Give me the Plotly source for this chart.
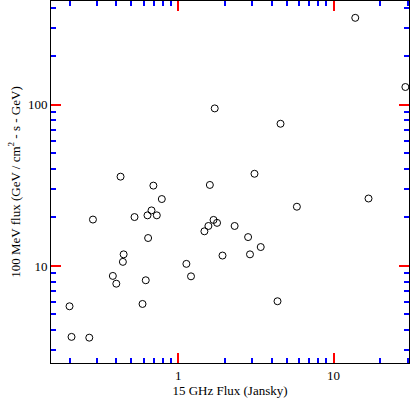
import numpy as np
import plotly.graph_objects as go

# 15 GHz radio flux (Jy) vs 100 MeV gamma-ray flux
radio_flux = [13.8, 29.0, 1.72, 4.56, 0.426, 0.693, 1.60, 3.10, 0.785, 16.8,
              0.283, 0.524, 0.635, 0.674, 0.729, 5.81, 1.476, 1.566, 1.69, 1.78,
              2.31, 2.82, 3.40, 0.641, 0.446, 0.441, 1.93, 2.90, 1.13, 0.380,
              0.400, 0.619, 1.21, 0.200, 0.590, 4.36, 0.206, 0.268]
gamma_flux = [346, 128.8, 94.9, 76.2, 35.8, 31.5, 31.8, 37.3, 26.0, 26.2,
              19.4, 20.1, 20.6, 22.1, 20.6, 23.3, 16.4, 17.7, 19.3, 18.5,
              17.7, 15.1, 13.1, 14.9, 11.8, 10.6, 11.6, 11.8, 10.3, 8.67,
              7.76, 8.15, 8.62, 5.62, 5.81, 6.04, 3.63, 3.59]

x_range = [0.152, 30.6]
y_range = [2.5, 440]

FONT = "Liberation Serif, Times New Roman, serif"

fig = go.Figure()
fig.add_trace(
    go.Scatter(
        x=radio_flux,
        y=gamma_flux,
        mode="markers",
        marker=dict(symbol="circle-open", size=7, color="black",
                    line=dict(width=1, color="black")),
        showlegend=False,
    )
)

fig.update_xaxes(
    type="log",
    range=[np.log10(x_range[0]), np.log10(x_range[1])],
    dtick=1,
    ticks="inside", ticklen=10, tickwidth=2, tickcolor="red",
    showline=True, linecolor="black", mirror="allticks",
    minor=dict(ticks="inside", ticklen=5, tickcolor="blue"),
    tickfont=dict(family=FONT, size=13, color="black"),
    title=dict(text="15 GHz Flux (Jansky)",
               font=dict(family=FONT, size=13, color="black"), standoff=2),
)
fig.update_yaxes(
    type="log",
    range=[np.log10(y_range[0]), np.log10(y_range[1])],
    dtick=1,
    ticks="inside", ticklen=10, tickwidth=2, tickcolor="red",
    showline=True, linecolor="black", mirror="allticks",
    minor=dict(ticks="inside", ticklen=5, tickcolor="blue"),
    tickfont=dict(family=FONT, size=13, color="black"),
    title=dict(text="100 MeV flux (GeV / cm<sup>2</sup> - s - GeV)",
               font=dict(family=FONT, size=13, color="black"), standoff=4),
)

fig.update_layout(
    width=415,
    height=398,
    plot_bgcolor="white",
    margin=dict(l=51, r=6, t=1, b=35),
)

fig.write_html(
    "out.html",
    config={"displayModeBar": False},
    post_script="document.body.style.margin='0';document.body.style.overflow='hidden';",
)
